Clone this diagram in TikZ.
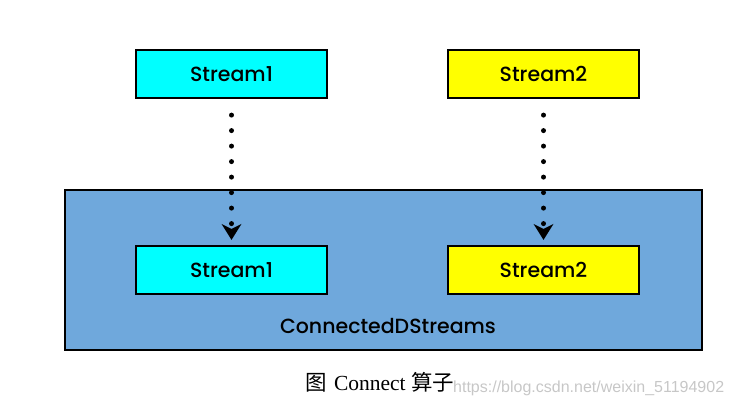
\documentclass[tikz,border=0pt]{standalone}
\usepackage{fontspec}
\setmainfont{Liberation Serif}
\newfontfamily\boxfont{Poppins}[BoldFont={* Medium}]
\newfontfamily\cjk{Noto Sans CJK SC}
\newfontfamily\wmfont{Liberation Sans}
\usetikzlibrary{arrows.meta}
\definecolor{cyanbox}{HTML}{00FFFF}
\definecolor{yellowbox}{HTML}{FFFF00}
\definecolor{bluebox}{HTML}{6FA8DC}
\begin{document}
\begin{tikzpicture}[x=1pt,y=-1pt,
  sbox/.style={draw=black,line width=2.2pt,minimum width=191pt,minimum height=48pt,inner sep=0pt,
    font=\boxfont\bfseries\fontsize{20.5}{22}\selectfont},
  dotarrow/.style={line width=5pt,line cap=round,dash pattern=on 0pt off 15.5pt,
    -{Stealth[width=20pt,length=16pt,inset=5pt,line width=0pt]}}]
\useasboundingbox (0,0) rectangle (739,407);
\node[draw=black,line width=2.2pt,fill=bluebox,minimum width=637pt,minimum height=160pt,inner sep=0pt] (outer) at (383.5,270) {};
\node[sbox,fill=cyanbox] (s1) at (231.5,74) {Stream1};
\node[sbox,fill=yellowbox] (s2) at (543.5,74) {Stream2};
\node[sbox,fill=cyanbox] (c1) at (231.5,270) {Stream1};
\node[sbox,fill=yellowbox] (c2) at (543.5,270) {Stream2};
\node[font=\boxfont\bfseries\fontsize{20.5}{22}\selectfont] (lbl) at (388,326) {ConnectedDStreams};
\draw[dotarrow] ([yshift=-16pt]s1.south) -- ([yshift=5pt]c1.north);
\draw[dotarrow] ([yshift=-16pt]s2.south) -- ([yshift=5pt]c2.north);
\node[font=\fontsize{21.5}{23}\selectfont,anchor=west] (cap) at (302,382) {{\cjk 图}\hspace{7pt}Connect {\cjk 算子}};
\node[font=\wmfont\fontsize{16}{18}\selectfont,text=black!22,anchor=west,inner sep=0pt] (wm) at (453,388) {https://blog.csdn.net/weixin\_51194902};
\end{tikzpicture}
\end{document}
